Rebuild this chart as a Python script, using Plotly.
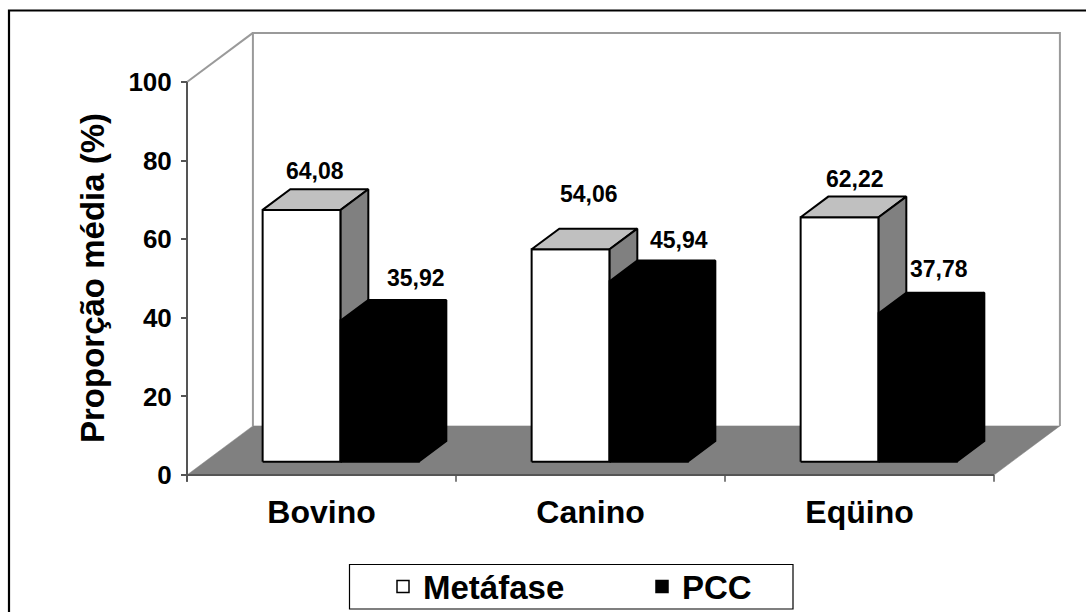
import plotly.graph_objects as go

# ---- data -------------------------------------------------------------
categories = ["Bovino", "Canino", "Eqüino"]
series_names = ["Metáfase", "PCC"]
metafase = [64.08, 54.06, 62.22]
pcc = [35.92, 45.94, 37.78]
y_ticks = [0, 20, 40, 60, 80, 100]

# ---- oblique 3-D projection (x in category units, y in value units) ----
DEPTH_X = 0.245      # horizontal shift of the back wall
DEPTH_Y = 12.5       # vertical shift of the back wall
FRONT = 0.27         # depth fraction of the bar fronts
BACK = 0.69          # depth fraction of the bar backs
GAP = 0.215          # space before the first bar of a group
BAR_W = 0.29         # bar width

# pixel scale of the axes
PX_X = 269.0
PX_Y = 3.93
W, H = 1086, 612
M_L, M_R, M_T, M_B = 170, 16, 25, 122
AX0_PX = 187         # pixel column of the value axis
Y0_PX = 475          # pixel row of value 0

plot_w = W - M_L - M_R
plot_h = H - M_T - M_B
x_range = [-(AX0_PX - M_L) / PX_X, (M_L + plot_w - AX0_PX) / PX_X]
y_range = [-(M_T + plot_h - Y0_PX) / PX_Y, (Y0_PX - M_T) / PX_Y]

FONT = "Arial, Liberation Sans, sans-serif"


def px_to_paper_x(px):
    return (px - M_L) / plot_w


def px_to_paper_y(py):
    return (M_T + plot_h - py) / plot_h


def polys_to_xy(polys):
    xs, ys = [], []
    for poly in polys:
        for x, y in poly + [poly[0]]:
            xs.append(x)
            ys.append(y)
        xs.append(None)
        ys.append(None)
    return xs, ys


def bar_faces(i, s, v):
    x0 = i + GAP + s * BAR_W
    x1 = x0 + BAR_W
    ax, ay = FRONT * DEPTH_X, FRONT * DEPTH_Y
    bx, by = BACK * DEPTH_X, BACK * DEPTH_Y
    front = [(x0 + ax, ay), (x1 + ax, ay), (x1 + ax, v + ay), (x0 + ax, v + ay)]
    top = [(x0 + ax, v + ay), (x1 + ax, v + ay), (x1 + bx, v + by), (x0 + bx, v + by)]
    side = [(x1 + ax, ay), (x1 + bx, by), (x1 + bx, v + by), (x1 + ax, v + ay)]
    return front, top, side


fig = go.Figure()


def add_poly(polys, fill, line_color, line_width):
    xs, ys = polys_to_xy(polys)
    fig.add_trace(go.Scatter(
        x=xs, y=ys, mode="lines", fill="toself", fillcolor=fill,
        line=dict(color=line_color, width=line_width),
        hoverinfo="skip", showlegend=False))


def add_lines(xs, ys, color, width):
    fig.add_trace(go.Scatter(
        x=xs, y=ys, mode="lines", line=dict(color=color, width=width),
        hoverinfo="skip", showlegend=False))


n = len(categories)
top_val = y_ticks[-1]

# floor
add_poly([[(0, 0), (n, 0), (n + DEPTH_X, DEPTH_Y), (DEPTH_X, DEPTH_Y)]],
         "#808080", "#808080", 0.5)

# back wall and left wall outline
add_lines([DEPTH_X, DEPTH_X, n + DEPTH_X, n + DEPTH_X],
          [DEPTH_Y, top_val + DEPTH_Y, top_val + DEPTH_Y, DEPTH_Y], "#9a9a9a", 2)
add_lines([0, DEPTH_X], [top_val, top_val + DEPTH_Y], "#9a9a9a", 2)

# value axis line and front edge with category ticks
add_lines([0, 0], [-1.7, top_val], "#555555", 2)
add_lines([0, n], [0, 0], "#555555", 2)
tx, ty = [], []
for k in range(n + 1):
    tx += [k, k, None]
    ty += [0, -1.7, None]
add_lines(tx, ty, "#555555", 1.5)

# bars: first series (white with grey top/side), then second series (black)
fronts, tops, sides = [], [], []
for i, v in enumerate(metafase):
    f, t, s = bar_faces(i, 0, v)
    fronts.append(f)
    tops.append(t)
    sides.append(s)
add_poly(fronts, "#ffffff", "#000000", 2)
add_poly(tops, "#c0c0c0", "#000000", 2)
add_poly(sides, "#808080", "#000000", 2)

black_faces = []
for i, v in enumerate(pcc):
    black_faces += list(bar_faces(i, 1, v))
add_poly(black_faces, "#000000", "#000000", 2)

# legend entries
fig.add_trace(go.Scatter(
    x=[None], y=[None], mode="markers", name=series_names[0],
    marker=dict(symbol="square", size=12, color="#ffffff",
                line=dict(color="#000000", width=1.5))))
fig.add_trace(go.Scatter(
    x=[None], y=[None], mode="markers", name=series_names[1],
    marker=dict(symbol="square", size=12, color="#000000",
                line=dict(color="#000000", width=1.5))))

# value labels above the bars (x shift in px, y lift in px)
label_dx = [[0, 23], [5, 17], [2, 8]]
label_dy = [[18, 22], [35, 21], [18, 24]]
for i in range(n):
    for s, vals in enumerate([metafase, pcc]):
        v = vals[i]
        xc = i + GAP + s * BAR_W + BAR_W / 2 + (FRONT + BACK) / 2 * DEPTH_X
        fig.add_annotation(
            x=xc, y=v + BACK * DEPTH_Y, xref="x", yref="y",
            text=f"{v:.2f}".replace(".", ","), showarrow=False,
            xshift=label_dx[i][s], yshift=label_dy[i][s],
            xanchor="center", yanchor="middle",
            font=dict(family=FONT, size=23, color="#000000", weight="bold"))

# axis title
fig.add_annotation(
    x=px_to_paper_x(92), y=px_to_paper_y(278), xref="paper", yref="paper",
    text="Proporção média (%)", textangle=-90, showarrow=False,
    xanchor="center", yanchor="middle",
    font=dict(family=FONT, size=33, color="#000000", weight="bold"))

# outer frame
fig.add_shape(type="rect", xref="paper", yref="paper",
              x0=px_to_paper_x(9), y0=px_to_paper_y(H + 40),
              x1=px_to_paper_x(W + 40), y1=px_to_paper_y(10.5),
              line=dict(color="#000000", width=2.2), fillcolor="rgba(0,0,0,0)")

# legend frame
fig.add_shape(type="rect", xref="paper", yref="paper",
              x0=px_to_paper_x(349.5), y0=px_to_paper_y(609),
              x1=px_to_paper_x(793), y1=px_to_paper_y(564.5),
              line=dict(color="#000000", width=1.2), fillcolor="rgba(0,0,0,0)")

fig.update_layout(
    width=W, height=H,
    margin=dict(l=M_L, r=M_R, t=M_T, b=M_B, pad=0, autoexpand=False),
    paper_bgcolor="#ffffff", plot_bgcolor="#ffffff",
    font=dict(family=FONT, color="#000000"),
    showlegend=True,
    legend=dict(
        orientation="h", x=px_to_paper_x(642), xanchor="center",
        y=px_to_paper_y(586.5), yanchor="middle",
        bgcolor="rgba(0,0,0,0)", borderwidth=0,
        font=dict(family=FONT, size=33, color="#000000", weight="bold"),
        itemwidth=30, entrywidth=214, itemclick=False, itemdoubleclick=False),
    xaxis=dict(
        range=x_range, showgrid=False, zeroline=False, showline=False,
        tickmode="array", tickvals=[k + 0.5 for k in range(n)],
        ticktext=categories, ticks="",
        tickfont=dict(family=FONT, size=32, color="#000000", weight="bold"),
        fixedrange=True),
    yaxis=dict(
        range=y_range, showgrid=False, zeroline=False, showline=False,
        anchor="free", position=px_to_paper_x(AX0_PX),
        tickmode="array", tickvals=y_ticks, ticks="outside", ticklen=6,
        tickwidth=1.5, tickcolor="#555555", ticklabelstandoff=4,
        tickfont=dict(family=FONT, size=26, color="#000000", weight="bold"),
        fixedrange=True),
)

fig.write_html("out.html")
